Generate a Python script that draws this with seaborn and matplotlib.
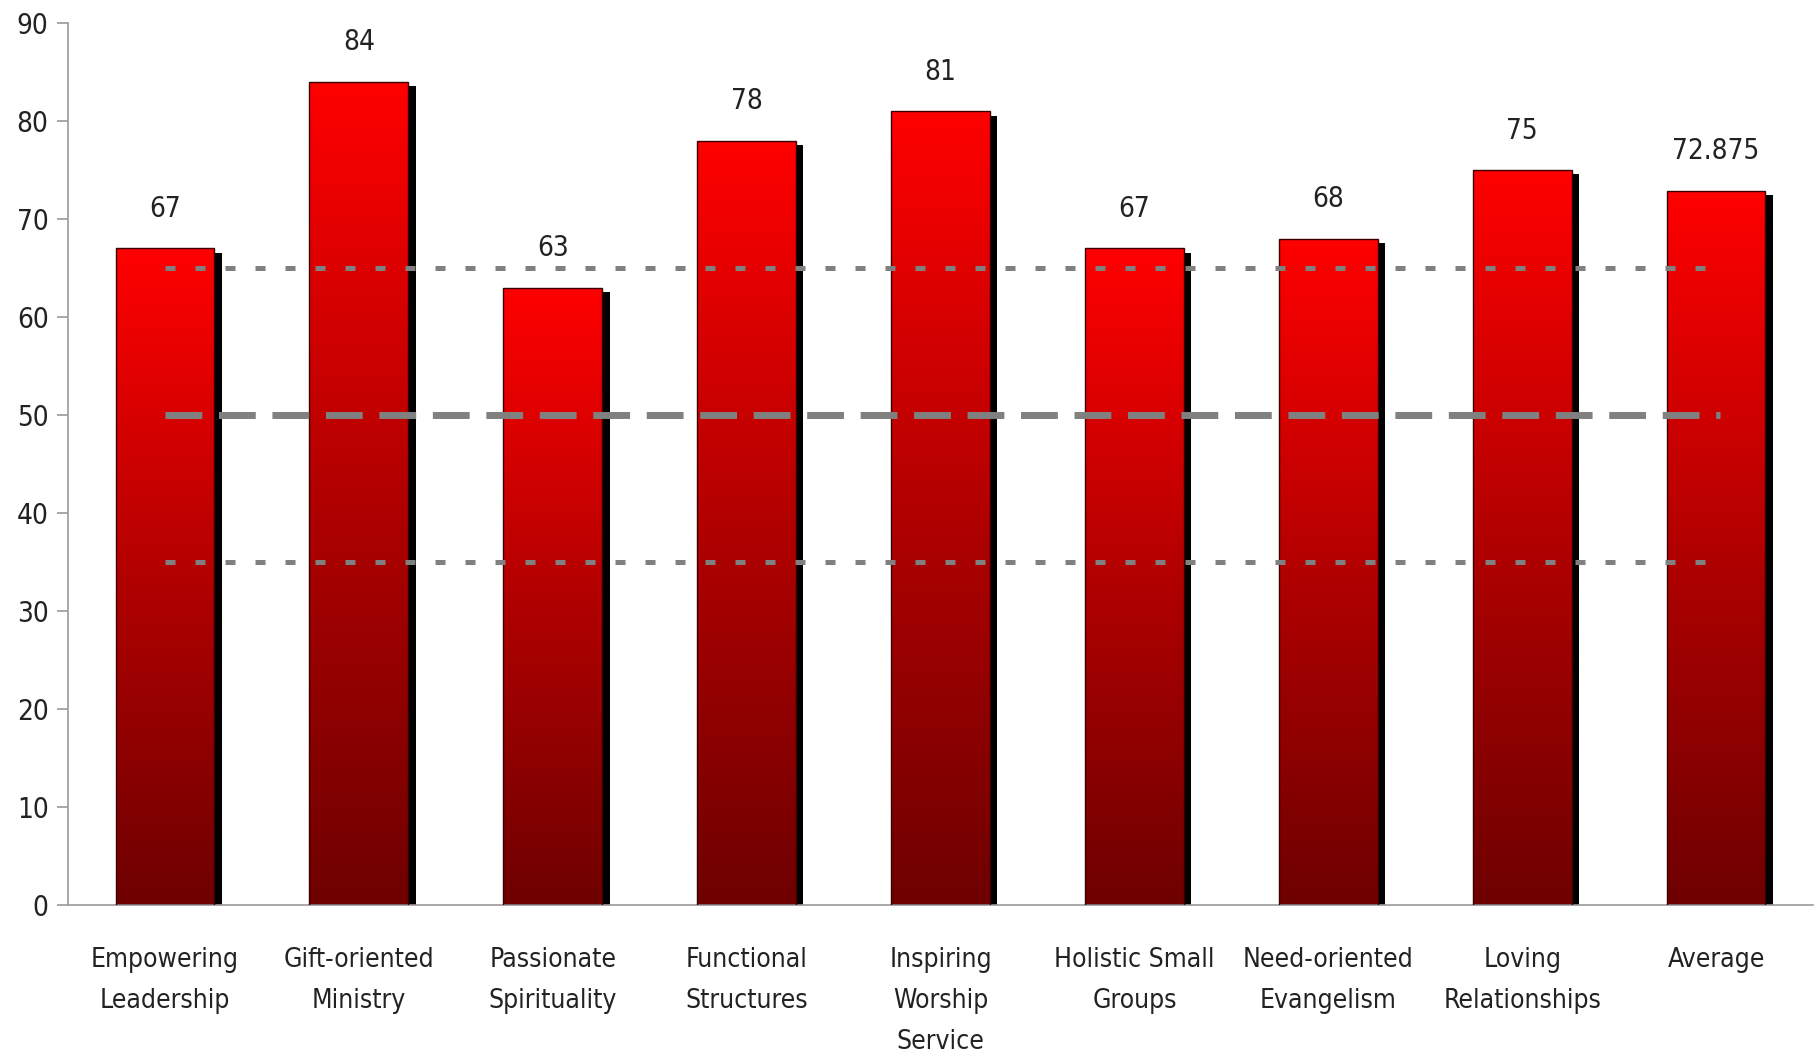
import numpy as np
import pandas as pd
import matplotlib
matplotlib.use("Agg")
import matplotlib.pyplot as plt
import seaborn as sns
from matplotlib.colors import LinearSegmentedColormap
from matplotlib.patches import Rectangle
from matplotlib import font_manager

categories = ["Empowering\nLeadership", "Gift-oriented\nMinistry", "Passionate\nSpirituality",
              "Functional\nStructures", "Inspiring\nWorship\nService", "Holistic Small\nGroups",
              "Need-oriented\nEvangelism", "Loving\nRelationships", "Average"]
values = [67, 84, 63, 78, 81, 67, 68, 75, 72.875]
value_labels = ["67", "84", "63", "78", "81", "67", "68", "75", "72.875"]
ref_dotted = [35, 65]
ref_dashed = [50]
yticks = [0, 10, 20, 30, 40, 50, 60, 70, 80, 90]

sns.set_theme(style="white")
names = {f.name for f in font_manager.fontManager.ttflist}
fam = "Liberation Sans Narrow" if "Liberation Sans Narrow" in names else "DejaVu Sans"
plt.rcParams['font.family'] = [fam, 'DejaVu Sans']
plt.rcParams['font.stretch'] = 'condensed'

df = pd.DataFrame({"cat": categories, "val": values})

fig = plt.figure(figsize=(18.16, 10.57), dpi=100)
ax = fig.add_axes([68/1816, 1 - 905/1057, (1813-68)/1816, (905-23)/1057])

sns.barplot(data=df, x="cat", y="val", color="red", width=0.51, ax=ax, zorder=2)

cmap = LinearSegmentedColormap.from_list("rg", ["#6e0000", "#b20000", "#ff0000"])
grad = np.linspace(0, 1, 256).reshape(-1, 1)
patches = list(ax.patches)
for p in patches:
    x0, w, h = p.get_x(), p.get_width(), p.get_height()
    sh = Rectangle((x0 + 0.038, 0), w, h - 0.45, facecolor="black", edgecolor="none", zorder=1)
    ax.add_patch(sh)
    p.set_facecolor("none")
    p.set_edgecolor("#3a0000")
    p.set_linewidth(1.0)
    p.set_zorder(3)
    im = ax.imshow(grad, extent=(x0, x0 + w, 0, h), origin="lower", cmap=cmap,
                   aspect="auto", zorder=2.5)
    im.set_clip_path(p)

ax.set_xlim(-0.5, len(categories) - 0.5)
ax.set_ylim(0, 90)

ax.hlines(ref_dotted, 0, len(categories) - 1, colors="#808080", linewidth=3.6,
          linestyles=[(0, (2.0, 4.0))], zorder=4)
ax.hlines(ref_dashed, 0, len(categories) - 1 + 0.02, colors="#808080", linewidth=5.0,
          linestyles=[(0, (5.3, 2.4))], zorder=4)

for p, lab in zip(patches, value_labels):
    ax.text(p.get_x() + p.get_width() / 2, p.get_height() + 2.6, lab,
            ha="center", va="bottom", fontsize=20, color="#222222", zorder=5)

ax.set_yticks(yticks)
ax.set_yticklabels([str(t) for t in yticks], fontsize=20, color="#222222")
ax.set_xticks(range(len(categories)))
ax.set_xticklabels(categories, fontsize=19, color="#222222", linespacing=1.75, va="top")
ax.tick_params(axis="x", length=0, pad=30)
ax.set_xticks(np.arange(-0.5, len(categories), 1.0), minor=True)
ax.tick_params(axis="x", which="minor", length=10, color="#999999", width=1.2, direction="out")
ax.tick_params(axis="y", length=8, color="#999999", width=1.2, direction="out", pad=6, left=True)
ax.set_xlabel("")
ax.set_ylabel("")

for s in ["top", "right"]:
    ax.spines[s].set_visible(False)
for s in ["left", "bottom"]:
    ax.spines[s].set_color("#999999")
    ax.spines[s].set_linewidth(1.2)

fig.savefig("out.png", dpi=100, facecolor="white")
